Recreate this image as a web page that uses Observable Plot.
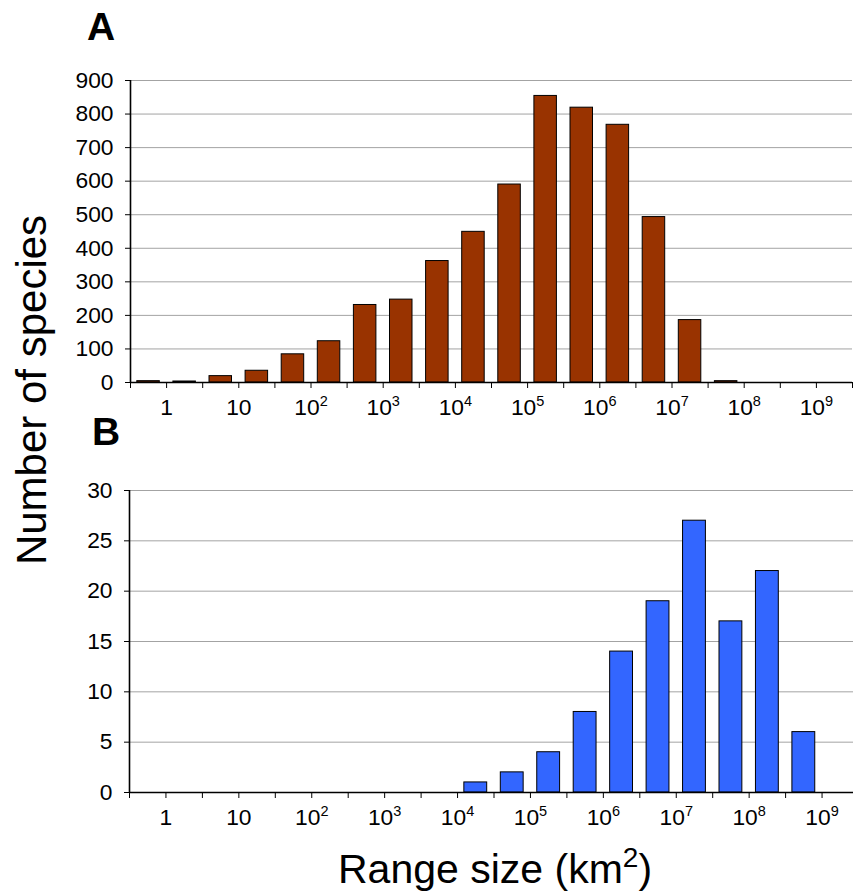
<!DOCTYPE html>
<html>
<head>
<meta charset="utf-8">
<script src="https://cdn.jsdelivr.net/npm/d3@7"></script>
<script src="https://cdn.jsdelivr.net/npm/@observablehq/plot@0.6"></script>
<style>
  html, body { margin: 0; padding: 0; background: #fff; }
  #wrap { position: relative; width: 853px; height: 895px; overflow: hidden; background: #fff;
          font-family: "Liberation Sans", Arial, Helvetica, sans-serif; }
  #wrap > div, #wrap > svg { position: absolute; }
  #wrap svg { max-width: none !important; }
</style>
</head>
<body>
<div id="wrap">
  <div id="panelA" style="left:0;top:60px;width:853px;height:360px;"></div>
  <div id="panelB" style="left:-1px;top:470px;width:860px;height:360px;"></div>
  <svg id="overlay" width="853" height="895" style="left:0;top:0;pointer-events:none;"></svg>
</div>
<script>
// ---- data ----
// bin edges in log10(km^2), half-decade bins
const binEdgesLog = [-0.5, 0, 0.5, 1, 1.5, 2, 2.5, 3, 3.5, 4, 4.5, 5, 5.5, 6, 6.5, 7, 7.5, 8, 8.5, 9, 9.5];
// panel A (brown) counts per bin
const countsA = [4, 3, 19, 35, 84, 123, 231, 247, 362, 449, 590, 854, 819, 768, 493, 186, 4, 0, 0, 0];
// panel B (blue) counts per bin
const countsB = [0, 0, 0, 0, 0, 0, 0, 0, 0, 1, 2, 4, 8, 14, 19, 27, 17, 22, 6, 0];
// tick labels at the decades 10^0 ... 10^9
const decadeLabels = ["1", "10", "10^2", "10^3", "10^4", "10^5", "10^6", "10^7", "10^8", "10^9"];
const yTicksA = [0, 100, 200, 300, 400, 500, 600, 700, 800, 900];
const yTicksB = [0, 5, 10, 15, 20, 25, 30];

const FONT = "'Liberation Sans', Arial, Helvetica, sans-serif";

function bins(counts) {
  return counts.map((c, i) => ({lo: binEdgesLog[i], hi: binEdgesLog[i + 1], count: c}));
}

function panel(counts, yTicks, color, width, left) {
  return Plot.plot({
    width: width,
    height: 360,
    marginLeft: left,
    marginRight: 1,
    marginTop: 20,
    marginBottom: 38,
    style: {fontFamily: FONT, fontSize: "22.5px", color: "#000", background: "transparent", overflow: "visible"},
    x: {
      domain: [binEdgesLog[0], binEdgesLog[binEdgesLog.length - 1]],
      ticks: binEdgesLog,
      tickFormat: d => Number.isInteger(d) ? decadeLabels[d] : "",
      tickSize: 6,
      tickPadding: 10,
      label: null
    },
    y: {
      domain: [yTicks[0], yTicks[yTicks.length - 1]],
      ticks: yTicks,
      tickSize: 5,
      tickPadding: 12,
      label: null
    },
    marks: [
      Plot.ruleY(yTicks.filter(v => v > 0), {stroke: "#a3a3a3", strokeWidth: 1}),
      Plot.rectY(bins(counts), {
        filter: d => d.count > 0,
        x1: "lo", x2: "hi", y: "count",
        fill: color, stroke: "#000", strokeWidth: 1,
        insetLeft: 6.8, insetRight: 6.8
      }),
      Plot.ruleY([0], {stroke: "#000", strokeWidth: 1.6}),
      Plot.ruleX([binEdgesLog[0]], {y1: yTicks[0], y2: yTicks[yTicks.length - 1], stroke: "#000", strokeWidth: 1.6})
    ]
  });
}

const chartA = panel(countsA, yTicksA, "#993300", 853, 130);
const chartB = panel(countsB, yTicksB, "#3366ff", 860, 130);
document.getElementById("panelA").appendChild(chartA);
document.getElementById("panelB").appendChild(chartB);

// font size + superscript exponents in tick labels
const NS = "http://www.w3.org/2000/svg";
for (const svg of [chartA, chartB]) {
  svg.querySelectorAll("text").forEach(t => {
    t.style.fontSize = "22.8px";
    t.style.fontFamily = FONT;
    const m = /^10\^(\d)$/.exec(t.textContent.trim());
    if (!m) return;
    while (t.firstChild) t.removeChild(t.firstChild);
    t.appendChild(document.createTextNode("10"));
    const sup = document.createElementNS(NS, "tspan");
    sup.style.fontSize = "14.5px";
    sup.setAttribute("dy", "-9");
    sup.textContent = m[1];
    t.appendChild(sup);
  });
}

// overlay texts
const ov = d3.select("#overlay").style("font-family", FONT);
ov.append("text").attr("x", 87).attr("y", 40).attr("font-size", 39).attr("font-weight", "bold").text("A");
ov.append("text").attr("x", 92).attr("y", 445).attr("font-size", 39).attr("font-weight", "bold").text("B");
ov.append("text")
  .attr("transform", "translate(46,390) rotate(-90)")
  .attr("text-anchor", "middle").attr("font-size", 42)
  .text("Number of species");
const xl = ov.append("text").attr("x", 495).attr("y", 883).attr("text-anchor", "middle").attr("font-size", 41);
xl.append("tspan").text("Range size (km");
xl.append("tspan").attr("font-size", 28).attr("dy", -16).text("2");
xl.append("tspan").attr("dy", 16).text(")");
</script>
</body>
</html>
